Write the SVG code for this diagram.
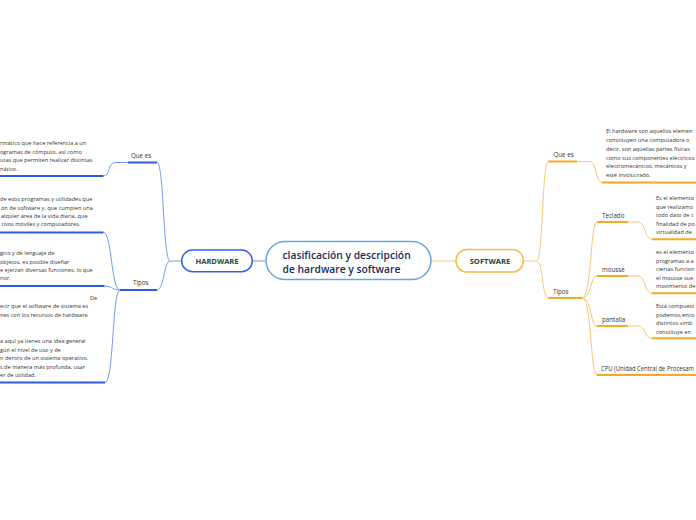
<svg xmlns="http://www.w3.org/2000/svg" width="696" height="520" viewBox="0 0 696 520">
<style>
text{font-family:"Open Sans","Noto Sans","Liberation Sans",sans-serif;fill:#333}
.leaf{font-size:5.6px}
.lbl{font-size:6.2px}
.bt{stroke:#2b5ce6;stroke-width:2;fill:none}
.bn{stroke:#7399f5;stroke-width:1;fill:none}
.ot{stroke:#f9a825;stroke-width:2;fill:none}
.on{stroke:#fcc67a;stroke-width:1;fill:none}
</style>
<rect width="696" height="520" fill="#fff"/>
<g id="connectors">
<path class="bn" d="M266,261 L252,261"/>
<path class="bn" d="M181.7,261 L170,261"/>
<path class="bn" d="M170,261 C163,261 164,162.5 157,162.5"/>
<path class="bn" d="M170,261 C164,261 164,290 157,290"/>
<path class="bn" d="M128,162.5 L115,162.5 C108,162.5 110,176 103.5,176"/>
<path class="bn" d="M120,290 C111,290 112,232.5 103.5,232.5"/>
<path class="bn" d="M120,290 C112,290 112,286 104.5,286"/>
<path class="bn" d="M120,290 C112,290 114,382.5 105,382.5"/>
<path class="on" d="M431,261 L456,261"/>
<path class="on" d="M523,261 L536.7,261"/>
<path class="on" d="M536.7,261 C543,261 542,161.5 548.3,161.5"/>
<path class="on" d="M536.7,261 C543,261 542,298 548.3,298"/>
<path class="on" d="M577,161.5 L590,161.5 C597,161.5 595,182.5 602,182.5"/>
<path class="on" d="M582,298 C592,298 590,222 597,222"/>
<path class="on" d="M582,298 C592,298 590,276 597,276"/>
<path class="on" d="M582,298 C592,298 590,326 597,326"/>
<path class="on" d="M582,298 C592,298 590,375 597,375"/>
<path class="on" d="M628,222 L638,222 C646,222 644,239.3 652,239.3"/>
<path class="on" d="M628,276 L638,276 C646,276 644,293.3 652,293.3"/>
<path class="on" d="M628,326 L638,326 C646,326 644,338.3 652,338.3"/>
</g>
<g id="center">
<rect x="266" y="241.5" width="165" height="38" rx="19" fill="#fff" stroke="#64a6dd" stroke-width="1.5"/>
<text x="282.5" y="259" style="font-size:10.3px;font-weight:600;fill:#1b2a57">clasificación y descripción</text>
<text x="282.5" y="272.5" style="font-size:10.3px;font-weight:600;fill:#1b2a57">de hardware y software</text>
</g>
<g id="hardware">
<rect x="181.7" y="250" width="70.6" height="21.7" rx="10.8" fill="#fff" stroke="#2f62e8" stroke-width="1.5"/>
<text x="217" y="263.5" text-anchor="middle" style="font-size:7.5px;font-weight:700;fill:#1c4a34">HARDWARE</text>
</g>
<g id="software">
<rect x="456" y="249.5" width="67.3" height="22.6" rx="11" fill="#fff" stroke="#f9b949" stroke-width="1.5"/>
<text x="490" y="263.5" text-anchor="middle" style="font-size:7.6px;font-weight:700;fill:#1c4a34">SOFTWARE</text>
</g>
<g id="h-quees">
<path class="bt" d="M128,162.5 L157,162.5"/>
<text class="lbl" x="131" y="158">Que es</text>
</g>
<g id="h-quees-leaf">
<path class="bt" d="M0,176 L103.5,176"/>
<text class="leaf" x="0" y="145">rmático que hace referencia a un</text>
<text class="leaf" x="0" y="154">ogramas de cómputo, así como</text>
<text class="leaf" x="0" y="162">utas que permiten realizar distintas</text>
<text class="leaf" x="0" y="171">nático.</text>
</g>
<g id="h-tipos">
<path class="bt" d="M120,290 L157,290"/>
<text class="lbl" x="133" y="285">Tipos</text>
</g>
<g id="h-leaf-a">
<path class="bt" d="M0,232.5 L103.5,232.5"/>
<text class="leaf" x="0" y="201">de esos programas y utilidades que</text>
<text class="leaf" x="1" y="209.5">ón de software y, que cumplen una</text>
<text class="leaf" x="1" y="218">alquier área de la vida diaria, que</text>
<text class="leaf" x="1.5" y="226">tivos móviles y computadores.</text>
</g>
<g id="h-leaf-b">
<path class="bt" d="M0,286 L104.5,286"/>
<text class="leaf" x="0" y="255">gico y de lenguaje de</text>
<text class="leaf" x="0" y="264">objetos, es posible diseñar</text>
<text class="leaf" x="0" y="272">e ejerzan diversas funciones, lo que</text>
<text class="leaf" x="0" y="280">rior.</text>
</g>
<g id="h-leaf-c">
<text class="leaf" x="90" y="300">De</text>
<text class="leaf" x="0" y="308">ecir que el software de sistema es</text>
<text class="leaf" x="0" y="317">nes con los recursos de hardware</text>
</g>
<g id="h-leaf-d">
<path class="bt" d="M0,382.5 L105,382.5"/>
<text class="leaf" x="0" y="343">a aquí ya tienes una idea general</text>
<text class="leaf" x="0" y="352">gún el nivel de uso y de</text>
<text class="leaf" x="0" y="360">n dentro de un sistema operativo.</text>
<text class="leaf" x="0" y="369">s de manera más profunda, usar</text>
<text class="leaf" x="0" y="377">er de utilidad.</text>
</g>
<g id="s-quees">
<path class="ot" d="M548.3,161.5 L577,161.5"/>
<text class="lbl" x="553.5" y="157">Que es</text>
</g>
<g id="s-quees-leaf">
<path class="ot" d="M602,182.5 L696,182.5"/>
<text class="leaf" x="606" y="133">El hardware son aquellos elemen</text>
<text class="leaf" x="606" y="142">constituyen una computadora o</text>
<text class="leaf" x="606" y="151">decir, son aquellas partes físicas</text>
<text class="leaf" x="606" y="160">como sus componentes eléctricos</text>
<text class="leaf" x="606" y="168">electromecánicos, mecánicos y</text>
<text class="leaf" x="606" y="177">esté involucrado.</text>
</g>
<g id="s-tipos">
<path class="ot" d="M548.3,298 L582,298"/>
<text class="lbl" x="553" y="294">Tipos</text>
</g>
<g id="s-teclado">
<path class="ot" d="M597,222 L628,222"/>
<text class="lbl" x="602" y="217.5">Teclado</text>
</g>
<g id="s-teclado-leaf">
<path class="ot" d="M652,239.3 L696,239.3"/>
<text class="leaf" x="656" y="200">Es el elemento</text>
<text class="leaf" x="656" y="209">que realizamo</text>
<text class="leaf" x="656" y="217">todo dato de c</text>
<text class="leaf" x="656" y="226">finalidad de po</text>
<text class="leaf" x="656" y="234">virtualidad de</text>
</g>
<g id="s-mousse">
<path class="ot" d="M597,276 L628,276"/>
<text class="lbl" x="602" y="271.5">mousse</text>
</g>
<g id="s-mousse-leaf">
<path class="ot" d="M652,293.3 L696,293.3"/>
<text class="leaf" x="656" y="254">es el elemento</text>
<text class="leaf" x="656" y="263">programas a a</text>
<text class="leaf" x="656" y="271">ciertas funcion</text>
<text class="leaf" x="656" y="280">el mousse sue</text>
<text class="leaf" x="656" y="288">movimiento de</text>
</g>
<g id="s-pantalla">
<path class="ot" d="M597,326 L628,326"/>
<text class="lbl" x="602" y="321.5">pantalla</text>
</g>
<g id="s-pantalla-leaf">
<path class="ot" d="M652,338.3 L696,338.3"/>
<text class="leaf" x="656" y="308">Está compuest</text>
<text class="leaf" x="656" y="317">podemos enco</text>
<text class="leaf" x="656" y="325">distintos símb</text>
<text class="leaf" x="656" y="334">constituye en</text>
</g>
<g id="s-cpu">
<path class="ot" d="M597,375 L696,375"/>
<text class="lbl" x="601" y="371" textLength="93" lengthAdjust="spacingAndGlyphs">CPU (Unidad Central de Procesam</text>
</g>
</svg>
